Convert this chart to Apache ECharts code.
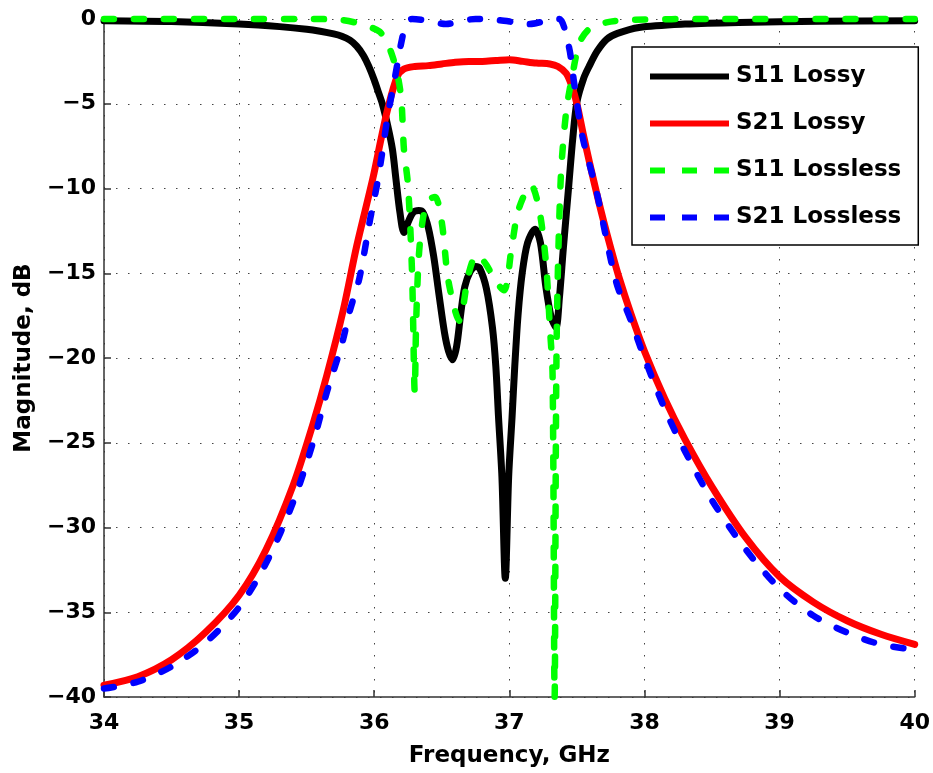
<!DOCTYPE html>
<html>
<head>
<meta charset="utf-8">
<script src="https://cdn.jsdelivr.net/npm/echarts@6/dist/echarts.min.js"></script>
<style>
  html, body { margin: 0; padding: 0; background: #fff; }
  #chart { width: 933px; height: 773px; }
</style>
</head>
<body>
<div id="chart"></div>
<script>
// Filter response, frequency in GHz, magnitude in dB

const freqS11Lossy = [34.0, 34.5, 35.0, 35.3, 35.5, 35.6, 35.7, 35.76, 35.82, 35.87, 35.92, 35.96, 36.0, 36.03, 36.06, 36.1, 36.135, 36.16, 36.19, 36.22, 36.25, 36.29, 36.33, 36.36, 36.40, 36.44, 36.48, 36.52, 36.55, 36.58, 36.61, 36.64, 36.67, 36.71, 36.75, 36.78, 36.83, 36.875, 36.90, 36.92, 36.945, 36.97, 36.995, 37.02, 37.04, 37.065, 37.095, 37.135, 37.19, 37.23, 37.27, 37.31, 37.345, 37.37, 37.40, 37.44, 37.47, 37.50, 37.55, 37.59, 37.65, 37.72, 37.8, 37.96, 38.3, 38.7, 39.3, 40.0];
const magS11Lossy  = [-0.1, -0.15, -0.3, -0.45, -0.6, -0.72, -0.88, -1.02, -1.25, -1.6, -2.15, -2.8, -3.6, -4.3, -5.0, -6.3, -7.7, -9.4, -11.4, -12.6, -12.0, -11.4, -11.3, -11.4, -12.3, -14.0, -16.3, -18.5, -19.6, -20.1, -19.3, -17.4, -15.8, -14.9, -14.6, -14.7, -15.9, -18.2, -20.5, -23.5, -27.0, -33.0, -27.0, -23.5, -20.5, -17.4, -15.0, -13.2, -12.4, -13.2, -15.8, -17.6, -18.2, -16.5, -13.5, -9.8, -7.0, -4.9, -3.5, -2.8, -1.9, -1.2, -0.85, -0.5, -0.3, -0.2, -0.13, -0.1];

const freqS21Lossy = [34.0, 34.25, 34.5, 34.75, 35.0, 35.2, 35.4, 35.55, 35.65, 35.77, 35.87, 35.99, 36.05, 36.1, 36.17, 36.22, 36.3, 36.4, 36.5, 36.6, 36.7, 36.8, 36.9, 37.0, 37.1, 37.2, 37.3, 37.36, 37.42, 37.46, 37.5, 37.55, 37.6, 37.65, 37.7, 37.75, 37.81, 37.9, 38.0, 38.15, 38.3, 38.5, 38.75, 39.0, 39.25, 39.5, 39.75, 40.0];
const magS21Lossy  = [-39.3, -38.8, -37.8, -36.2, -34.0, -31.3, -27.5, -23.8, -21.0, -17.2, -13.4, -9.4, -7.1, -5.3, -3.4, -2.95, -2.8, -2.75, -2.65, -2.55, -2.5, -2.5, -2.45, -2.4, -2.5, -2.6, -2.65, -2.8, -3.2, -3.9, -5.0, -6.9, -8.7, -10.4, -12.0, -13.5, -15.2, -17.4, -19.6, -22.4, -24.8, -27.6, -30.6, -32.9, -34.4, -35.5, -36.3, -36.9];

const freqS11Lossless = [34.0, 35.0, 35.5, 35.75, 35.9, 36.04, 36.1, 36.135, 36.17, 36.2, 36.22, 36.25, 36.28, 36.30, 36.31, 36.33, 36.36, 36.40, 36.45, 36.50, 36.55, 36.63, 36.70, 36.76, 36.83, 36.90, 36.96, 37.02, 37.07, 37.16, 37.22, 37.27, 37.30, 37.32, 37.335, 37.35, 37.38, 37.42, 37.46, 37.52, 37.59, 37.72, 37.9, 38.5, 40.0];
const magS11Lossless  = [0, 0, 0, -0.05, -0.3, -0.75, -1.5, -2.2, -3.2, -4.7, -7.7, -9.8, -15.0, -22.0, -18.0, -14.0, -11.8, -10.7, -10.5, -12.0, -15.5, -17.8, -15.0, -13.9, -14.5, -15.5, -16.0, -13.3, -11.2, -9.8, -11.2, -14.3, -18.2, -21.0, -40.0, -19.0, -9.5, -5.5, -3.6, -1.4, -0.6, -0.2, -0.05, 0, 0];

const freqS21Lossless = [34.0, 34.25, 34.5, 34.75, 35.0, 35.2, 35.4, 35.55, 35.65, 35.76, 35.82, 35.89, 35.97, 36.02, 36.055, 36.1, 36.15, 36.2, 36.24, 36.28, 36.4, 36.53, 36.65, 36.75, 36.9, 37.05, 37.15, 37.25, 37.32, 37.37, 37.44, 37.48, 37.54, 37.64, 37.79, 37.9, 38.0, 38.15, 38.3, 38.5, 38.75, 39.0, 39.25, 39.5, 39.75, 40.0];
const magS21Lossless  = [-39.5, -39.1, -38.2, -36.8, -34.7, -32.1, -28.5, -24.9, -22.0, -19.2, -17.2, -15.3, -11.8, -9.8, -8.1, -5.7, -3.6, -1.4, -0.2, 0, -0.1, -0.3, -0.1, 0, -0.05, -0.2, -0.3, -0.15, -0.05, 0, -1.6, -3.8, -6.9, -10.0, -15.5, -17.8, -20.0, -23.0, -25.5, -28.4, -31.3, -33.6, -35.2, -36.2, -36.9, -37.2];

const xTicks = [34, 35, 36, 37, 38, 39, 40];
const yTicks = [0, -5, -10, -15, -20, -25, -30, -35, -40];

const seriesNames = ['S11 Lossy', 'S21 Lossy', 'S11 Lossless', 'S21 Lossless'];
const seriesColors = ['#000000', '#ff0000', '#00ff00', '#0000ff'];
const seriesDashed = [false, false, true, true];

function pairs(xs, ys) {
  return xs.map((x, i) => [x, ys[i]]);
}

const FONT = 'DejaVu Sans';
const chart = echarts.init(document.getElementById('chart'), null, { renderer: 'canvas' });

const minus = v => String(v).replace('-', '\u2212');

function lineSeries(i, data) {
  const dashed = seriesDashed[i];
  return {
    name: seriesNames[i],
    type: 'line',
    data: data,
    symbol: 'none',
    smooth: 0.3,
    clip: false,
    animation: false,
    lineStyle: {
      color: seriesColors[i],
      width: dashed ? 6.5 : 7,
      type: dashed ? [10, 20] : 'solid',
      cap: 'round',
      join: 'round'
    },
    itemStyle: { color: seriesColors[i] },
    emphasis: { disabled: true }
  };
}

const legendData = seriesNames.map((name, i) => ({
  name: name,
  itemStyle: { opacity: 0 },
  lineStyle: {
    color: seriesColors[i],
    width: 6,
    type: seriesDashed[i] ? [15, 17] : 'solid',
    cap: 'butt',
    opacity: 1
  }
}));

chart.setOption({
  backgroundColor: '#ffffff',
  animation: false,
  grid: { left: 104, right: 17, top: 19, bottom: 72, containLabel: false },
  xAxis: {
    type: 'value',
    min: xTicks[0],
    max: xTicks[xTicks.length - 1],
    interval: 1,
    name: 'Frequency, GHz',
    nameLocation: 'middle',
    nameGap: 48,
    nameTextStyle: { fontFamily: FONT, fontWeight: 'bold', fontSize: 23, color: '#000' },
    axisLine: { onZero: false, lineStyle: { color: '#333', width: 1.5 } },
    axisTick: { inside: true, length: 7, lineStyle: { color: '#333', width: 1.5 } },
    axisLabel: { margin: 15, fontFamily: FONT, fontWeight: 'bold', fontSize: 22, color: '#000', formatter: v => minus(v) },
    splitLine: { show: true, lineStyle: { color: '#444', width: 1, type: [1.5, 10.5] } }
  },
  yAxis: {
    type: 'value',
    min: yTicks[yTicks.length - 1],
    max: yTicks[0],
    interval: 5,
    name: 'Magnitude, dB',
    nameLocation: 'middle',
    nameGap: 68,
    nameTextStyle: { fontFamily: FONT, fontWeight: 'bold', fontSize: 23, color: '#000' },
    axisLine: { show: true, onZero: false, lineStyle: { color: '#333', width: 1.5 } },
    axisTick: { show: true, inside: true, length: 7, lineStyle: { color: '#333', width: 1.5 } },
    axisLabel: { margin: 8, fontFamily: FONT, fontWeight: 'bold', fontSize: 22, color: '#000', formatter: v => minus(v) },
    splitLine: { show: true, lineStyle: { color: '#444', width: 1, type: [1.5, 10.5] } }
  },
  legend: {
    orient: 'vertical',
    left: 632,
    top: 47,
    data: legendData,
    itemWidth: 79,
    itemHeight: 14,
    itemGap: 24,
    padding: [18, 17, 16, 15],
    borderColor: '#000',
    borderWidth: 1.5,
    backgroundColor: '#fff',
    selectedMode: false,
    textStyle: { fontFamily: FONT, fontWeight: 'bold', fontSize: 23, color: '#000', padding: [0, 0, 0, 2] }
  },
  series: [
    lineSeries(0, pairs(freqS11Lossy, magS11Lossy)),
    lineSeries(1, pairs(freqS21Lossy, magS21Lossy)),
    lineSeries(2, pairs(freqS11Lossless, magS11Lossless)),
    lineSeries(3, pairs(freqS21Lossless, magS21Lossless))
  ]
});
</script>
</body>
</html>
